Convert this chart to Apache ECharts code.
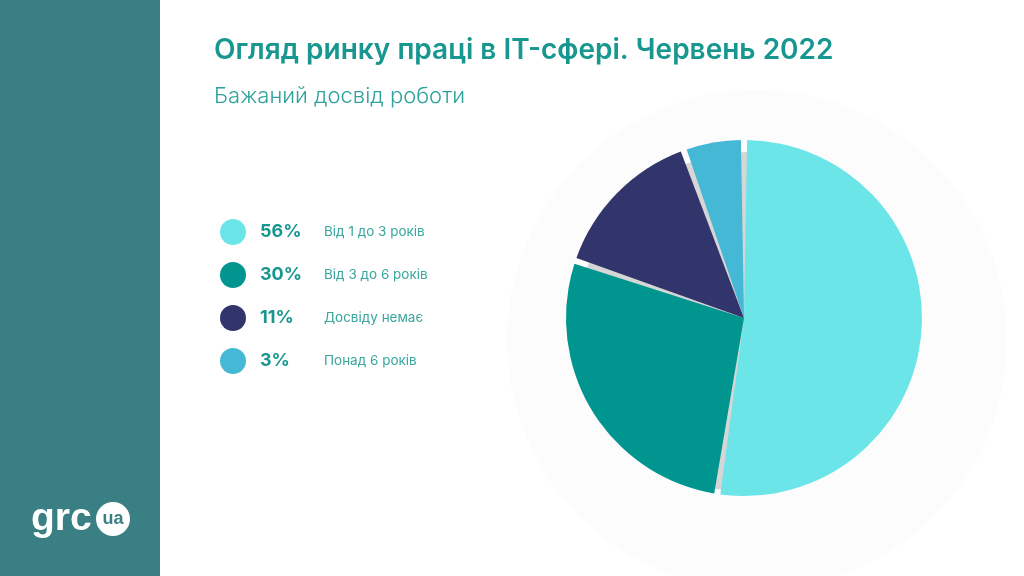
<!DOCTYPE html>
<html><head><meta charset="utf-8">
<script src="https://cdn.jsdelivr.net/npm/echarts@6/dist/echarts.min.js"></script>
<style>html,body{margin:0;padding:0;background:#fff}#c{width:1024px;height:576px}</style>
</head><body><div id="c"></div>
<script>
const categories = ['Від 1 до 3 років', 'Від 3 до 6 років', 'Досвіду немає', 'Понад 6 років'];
const percentLabels = ['56%', '30%', '11%', '3%'];
const sliceValues = [52.4, 27.8, 14.3, 5.5];
const colors = ['#6ce5e8', '#00968f', '#32356c', '#45b8d6'];

const chart = echarts.init(document.getElementById('c'), null, {renderer: 'canvas'});
const font = 'Inter, "Open Sans", sans-serif';
const data = categories.map((c, i) => ({name: c, value: sliceValues[i], itemStyle: {color: colors[i]}}));
const pctMap = {};
categories.forEach((c, i) => pctMap[c] = percentLabels[i]);

chart.setOption({
  animation: false,
  textStyle: {fontFamily: font},
  title: {
    text: 'Огляд ринку праці в IT-сфері. Червень 2022',
    subtext: 'Бажаний досвід роботи',
    left: 209, top: 32, itemGap: 20,
    textStyle: {fontFamily: font, fontSize: 28, fontWeight: 600, color: '#17978f'},
    subtextStyle: {fontFamily: font, fontSize: 22, fontWeight: 300, color: '#2fa39b'}
  },
  legend: {
    orient: 'vertical', left: 215, top: 214, itemGap: 17,
    icon: 'circle', itemWidth: 26, itemHeight: 26,
    selectedMode: false,
    data: categories,
    formatter: n => '{p|' + pctMap[n] + '}{l|' + n + '}',
    textStyle: {
      rich: {
        p: {fontFamily: font, fontSize: 18, fontWeight: 700, color: '#17978f', width: 64, padding: [0, 0, 0, 9]},
        l: {fontFamily: font, fontSize: 13.5, color: '#3aa69e'}
      }
    }
  },
  graphic: [
    {type: 'rect', shape: {x: 0, y: 0, width: 160, height: 576}, style: {fill: '#3a7f84'}, z: -10},
    {type: 'circle', shape: {cx: 757, cy: 340, r: 250}, style: {fill: '#fcfcfc'}, z: -10},
    {type: 'text', left: 31, top: 500, style: {text: 'grc', fill: '#fff', font: 'bold 39px "Liberation Sans", Arial, sans-serif'}},
    {type: 'circle', shape: {cx: 113, cy: 519, r: 17}, style: {fill: '#fff'}},
    {type: 'text', x: 113, y: 519, style: {text: 'ua', fill: '#3a7f84', align: 'center', verticalAlign: 'middle', font: 'bold 18px "Liberation Sans", Arial, sans-serif'}}
  ],
  series: [
    {
      type: 'pie', silent: true, radius: 170, center: [748, 322], startAngle: 90,
      label: {show: false}, labelLine: {show: false},
      data: [{value: 1, name: 'bg', itemStyle: {color: '#d6d6d6'}}], z: 1
    },
    {
      type: 'pie', radius: 178, center: [744, 318], startAngle: 90, clockwise: true,
      padAngle: 2, label: {show: false}, labelLine: {show: false},
      data: data, z: 2
    }
  ]
});
</script></body></html>
